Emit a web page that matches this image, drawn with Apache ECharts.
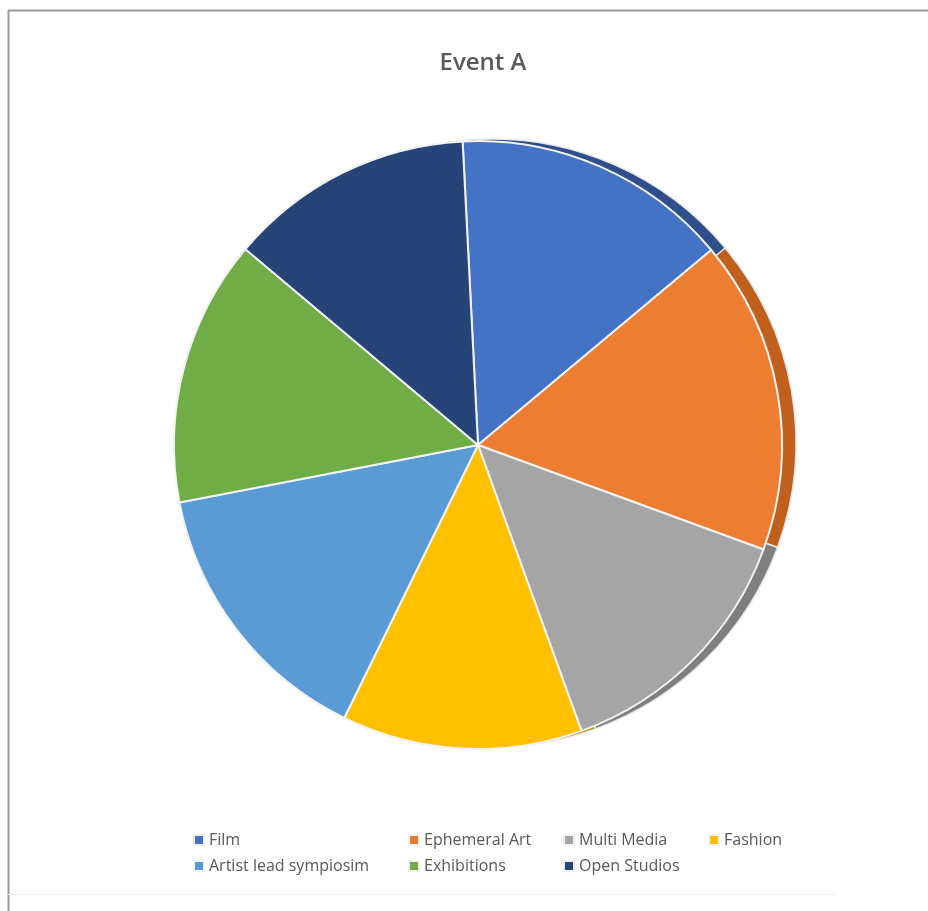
<!DOCTYPE html>
<html>
<head>
<meta charset="utf-8">
<script src="https://cdn.jsdelivr.net/npm/echarts@6/dist/echarts.min.js"></script>
<style>
html,body{margin:0;padding:0;background:#fff;}
#chart{width:928px;height:911px;}
</style>
</head>
<body>
<div id="chart"></div>
<script>
const title = 'Event A';
const categories = ['Film', 'Ephemeral Art', 'Multi Media', 'Fashion', 'Artist lead sympiosim', 'Exhibitions', 'Open Studios'];
const values = [53, 60, 50, 46, 53, 51, 47];
const faceColors = ['#4472C4', '#ED7D31', '#A5A5A5', '#FFC000', '#5B9BD5', '#70AD47', '#264478'];
const sideColors = ['#2E4F8C', '#C0601C', '#7F7F7F', '#BF9000', '#41719C', '#507E32', '#1A2F55'];

const legendPos = [[193, 832], [408, 832], [563, 832], [708, 832], [193, 858], [408, 858], [563, 858]];

const chart = echarts.init(document.getElementById('chart'), null, {renderer: 'canvas'});

const legends = categories.map((c, i) => ({
  left: legendPos[i][0],
  top: legendPos[i][1],
  padding: 0,
  icon: 'rect',
  itemWidth: 10,
  itemHeight: 10,
  selectedMode: false,
  data: [{name: c, itemStyle: {color: faceColors[i]}}],
  textStyle: {fontFamily: 'Open Sans', fontSize: 16, color: '#595959'}
}));

const option = {
  backgroundColor: '#ffffff',
  animation: false,
  title: {
    text: title,
    left: 478,
    top: 46,
    textAlign: 'center',
    textStyle: {fontFamily: 'Open Sans', fontSize: 24, fontWeight: 600, color: '#595959'}
  },
  legend: legends,
  graphic: [
    {type: 'line', shape: {x1: 8, y1: 10.5, x2: 928, y2: 10.5}, style: {stroke: '#9a9a9a', lineWidth: 2}},
    {type: 'line', shape: {x1: 8.5, y1: 10, x2: 8.5, y2: 911}, style: {stroke: '#9a9a9a', lineWidth: 2}},
    {type: 'line', shape: {x1: 8, y1: 894.5, x2: 835, y2: 894.5}, style: {stroke: '#efefef', lineWidth: 1}}
  ],
  series: [
    {
      type: 'pie',
      name: 'face',
      z: 3,
      center: [478, 445],
      radius: [0, 304],
      startAngle: 92.9,
      clockwise: true,
      silent: true,
      label: {show: false},
      labelLine: {show: false},
      emphasis: {disabled: true},
      itemStyle: {borderColor: '#f2f2f2', borderWidth: 2},
      data: categories.map((c, i) => ({name: c, value: values[i], itemStyle: {color: faceColors[i]}}))
    },
    {
      type: 'pie',
      name: 'side',
      z: 1,
      center: [492, 443],
      radius: [0, 304],
      startAngle: 92.9,
      clockwise: true,
      silent: true,
      label: {show: false},
      labelLine: {show: false},
      emphasis: {disabled: true},
      itemStyle: {borderColor: '#e6e6e6', borderWidth: 1.5},
      data: categories.map((c, i) => ({name: c, value: values[i], itemStyle: {color: sideColors[i]}}))
    }
  ]
};
chart.setOption(option);
</script>
</body>
</html>
